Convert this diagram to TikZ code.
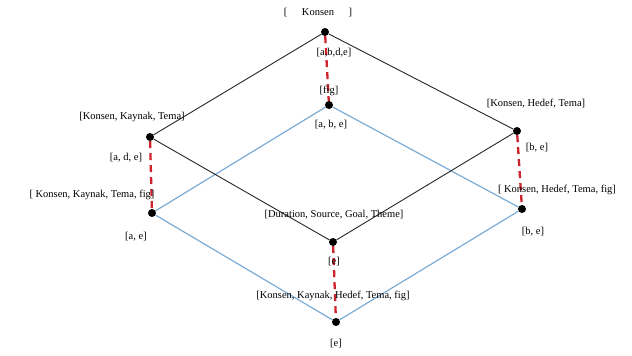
\documentclass[tikz,border=0pt]{standalone}
\usepackage{fontspec}
\setmainfont{Liberation Serif}
\usepackage{tikz}
\definecolor{latblue}{RGB}{122,172,214}
\definecolor{latred}{RGB}{205,35,45}

\begin{document}
\begin{tikzpicture}[x=1pt,y=-1pt]
\tikzstyle{dot}=[circle,fill=black,inner sep=0pt,minimum size=8pt]
\tikzstyle{lbl}=[inner sep=1pt,font=\fontsize{10.5}{12}\selectfont]
\tikzstyle{upper}=[draw=black!85,line width=0.9pt]
\tikzstyle{lower}=[draw=latblue,line width=1.2pt]
\tikzstyle{link}=[draw=latred,line width=2.3pt,dash pattern=on 7pt off 5pt]
\useasboundingbox (0,0) rectangle (632,356);

% upper lattice
\node[dot] (konsen) at (325,32) {};
\node[dot] (kkt) at (150,137) {};
\node[dot] (kht) at (517,131) {};
\node[dot] (dsgt) at (333,242) {};

% lower lattice
\node[dot] (fig) at (329,105) {};
\node[dot] (kktf) at (152,213) {};
\node[dot] (khtf) at (522,209) {};
\node[dot] (kkhtf) at (336,322) {};

\draw[lower] (fig) -- (kktf);
\draw[lower] (fig) -- (khtf);
\draw[lower] (kktf) -- (kkhtf);
\draw[lower] (khtf) -- (kkhtf);

\draw[upper] (konsen) -- (kkt);
\draw[upper] (konsen) -- (kht);
\draw[upper] (kkt) -- (dsgt);
\draw[upper] (kht) -- (dsgt);

\draw[link] (konsen) -- (fig);
\draw[link] (kkt) -- (kktf);
\draw[link] (kht) -- (khtf);
\draw[link] (dsgt) -- (kkhtf);

% labels
\node[lbl] (konsenL) at (318,13) {[\hspace{1.4em}Konsen\hspace{1.4em}]};
\node[lbl] (konsenE) at (334,53) {[a,b,d,e]};
\node[lbl] (figL) at (329,91) {[fig]};
\node[lbl] (figE) at (331,125) {[a, b, e]};
\node[lbl] (kktL) at (132,117) {[Konsen, Kaynak, Tema]};
\node[lbl] (kktE) at (126,158) {[a, d, e]};
\node[lbl] (kktfL) at (92,195) {[ Konsen, Kaynak, Tema, fig]};
\node[lbl] (kktfE) at (136,237) {[a, e]};
\node[lbl] (khtL) at (536,104) {[Konsen, Hedef, Tema]};
\node[lbl] (khtE) at (537,148) {[b, e]};
\node[lbl] (khtfL) at (557,190) {[ Konsen, Hedef, Tema, fig]};
\node[lbl] (khtfE) at (533,232) {[b, e]};
\node[lbl] (dsgtL) at (334,215) {[Duration, Source, Goal, Theme]};
\node[lbl] (dsgtE) at (334,262) {[e]};
\node[lbl] (kkhtfL) at (333,296) {[Konsen, Kaynak, Hedef, Tema, fig]};
\node[lbl] (kkhtfE) at (336,344) {[e]};
\end{tikzpicture}
\end{document}
